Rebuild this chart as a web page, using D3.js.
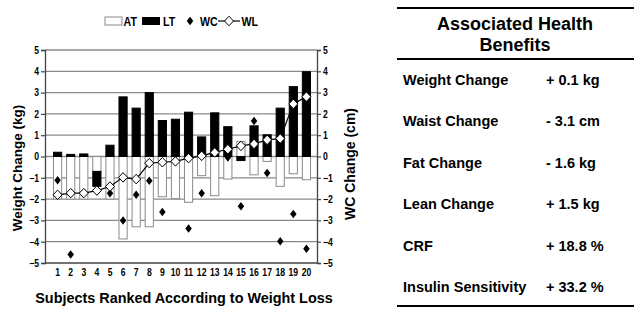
<!DOCTYPE html>
<html><head><meta charset="utf-8">
<script src="https://cdn.jsdelivr.net/npm/d3@7"></script>
<style>
html,body{margin:0;padding:0;background:#fff;}
svg{display:block;}
.narrow{font-family:"Liberation Sans",Arial,Helvetica,sans-serif;font-weight:bold;transform-box:fill-box;transform:scaleX(0.82);}
.oL{transform-origin:100% 50%;}
.oR{transform-origin:0% 50%;}
.oC{transform-origin:50% 50%;}
.wide{font-family:"Liberation Sans",Arial,Helvetica,sans-serif;font-weight:bold;}
</style></head>
<body>
<script>
const subjects = d3.range(1, 21);
const AT = [-2.0,-2.0,-2.0,-0.7,-2.0,-3.87,-3.3,-3.3,-1.89,-1.98,-2.15,-0.9,-1.84,-1.06,0.7,-0.86,-0.23,-1.4,-0.81,-1.09];
const LT = [0.2,0.1,0.12,-0.7,0.53,2.8,2.27,3.0,1.69,1.75,2.08,0.92,2.05,1.4,-0.19,1.44,1.02,2.27,3.28,3.98];
const WC = [-1.12,-4.6,-1.7,-1.62,-1.72,-3.0,-1.8,-1.14,-2.6,-0.24,-3.38,-1.72,0.18,-0.05,-2.34,1.67,-0.78,-3.98,-2.7,-4.33];
const WL = [-1.8,-1.72,-1.72,-1.6,-1.41,-0.98,-1.06,-0.31,-0.27,-0.23,-0.08,0.03,0.19,0.34,0.5,0.59,0.78,0.84,2.47,2.81];
const yTicks = [-5,-4,-3,-2,-1,0,1,2,3,4,5];
const legendItems = ["AT","LT","WC","WL"];
const benefitLabels = ["Weight Change","Waist Change","Fat Change","Lean Change","CRF","Insulin Sensitivity"];
const benefitValues = ["+ 0.1 kg","- 3.1 cm","- 1.6 kg","+ 1.5 kg","+ 18.8 %","+ 33.2 %"];

const W = 643, H = 315;
const svg = d3.select("body").append("svg").attr("width", W).attr("height", H);

const axL = 45, axR = 317;
const x = d3.scaleBand().domain(subjects).range([53, 311]).paddingInner(0.3).paddingOuter(0);
const y = d3.scaleLinear().domain([-5, 5]).range([263, 50]);

// gridlines
svg.append("g").selectAll("line").data(yTicks.filter(d => d > -5)).join("line")
  .attr("x1", axL).attr("x2", axR).attr("y1", d => y(d)).attr("y2", d => y(d))
  .attr("stroke", "#8a8a8a").attr("stroke-width", 1.3);

// stacked bars (diverging)
const rows = subjects.map((s, i) => ({s, AT: AT[i], LT: LT[i]}));
const stack = d3.stack().keys(["AT","LT"]).offset(d3.stackOffsetDiverging)(rows);
const barStyles = {AT: {fill: "#fff", stroke: "#8a8a8a"}, LT: {fill: "#000", stroke: "#000"}};
stack.forEach(layer => {
  const st = barStyles[layer.key];
  svg.append("g").selectAll("rect").data(layer).join("rect")
    .attr("x", d => x(d.data.s) + 0.5)
    .attr("width", x.bandwidth() - 1)
    .attr("y", d => y(Math.max(d[0], d[1])))
    .attr("height", d => Math.abs(y(d[0]) - y(d[1])))
    .attr("fill", st.fill).attr("stroke", st.stroke).attr("stroke-width", 1);
});

// axes
const yAxisL = d3.axisLeft(y).tickValues(yTicks).tickSize(4).tickPadding(2).tickFormat(d3.format("d"));
const gL = svg.append("g").attr("transform", `translate(${axL},0)`).call(yAxisL);
const yAxisR = d3.axisRight(y).tickValues(yTicks).tickSize(4).tickPadding(2).tickFormat(d3.format("d"));
const gR = svg.append("g").attr("transform", `translate(${axR},0)`).call(yAxisR);
const xAxis = d3.axisBottom(x).tickSize(0).tickPadding(6);
const gX = svg.append("g").attr("transform", `translate(0,${y(-5)})`).call(xAxis);
gX.select(".domain").remove();
svg.append("line").attr("x1", axL).attr("x2", axR).attr("y1", y(-5)).attr("y2", y(-5)).attr("stroke", "#444").attr("stroke-width", 1.3);
[gL, gR].forEach(g => {
  g.select(".domain").attr("stroke", "#444").attr("stroke-width", 1.3);
  g.selectAll(".tick line").attr("stroke", "#444").attr("stroke-width", 1.2);
});
[[gL, "oL"], [gR, "oR"], [gX, "oC"]].forEach(([g, o]) => g.selectAll(".tick text").attr("class", "narrow " + o).attr("font-size", 10.5).attr("fill", "#000"));
[gL, gR, gX].forEach(g => g.attr("font-family", null).attr("font-size", null));

// WL line + diamonds
const line = d3.line().x((d, i) => x(subjects[i]) + x.bandwidth() / 2).y(d => y(d));
svg.append("path").datum(WL).attr("d", line).attr("fill", "none").attr("stroke", "#000").attr("stroke-width", 1.2);

const diamond = (w, h) => `M0,${-h/2}L${w/2},0L0,${h/2}L${-w/2},0Z`;
svg.append("g").selectAll("path").data(WC).join("path")
  .attr("transform", (d, i) => `translate(${x(subjects[i]) + x.bandwidth() / 2},${y(d)})`)
  .attr("d", diamond(6.5, 8.5)).attr("fill", "#000");
svg.append("g").selectAll("path").data(WL).join("path")
  .attr("transform", (d, i) => `translate(${x(subjects[i]) + x.bandwidth() / 2},${y(d)})`)
  .attr("d", diamond(9, 9.5)).attr("fill", "#fff").attr("stroke", "#000").attr("stroke-width", 1);

// legend
const lg = svg.append("g");
lg.append("rect").attr("x", 105).attr("y", 17).attr("width", 17).attr("height", 8).attr("fill", "#fff").attr("stroke", "#8a8a8a");
lg.append("rect").attr("x", 142).attr("y", 17).attr("width", 18).attr("height", 8).attr("fill", "#000");
lg.append("path").attr("transform", "translate(190,21)").attr("d", diamond(6.5, 8.5)).attr("fill", "#000");
lg.append("line").attr("x1", 218).attr("x2", 240).attr("y1", 21).attr("y2", 21).attr("stroke", "#000").attr("stroke-width", 1.2);
lg.append("path").attr("transform", "translate(229,21)").attr("d", diamond(9, 9.5)).attr("fill", "#fff").attr("stroke", "#000");
const legX = [123.5, 163, 200, 241.5];
lg.selectAll("text").data(legendItems).join("text").attr("class", "narrow oR")
  .attr("x", (d, i) => legX[i]).attr("y", 26).attr("font-size", 13).text(d => d);

// axis titles
svg.append("text").attr("class", "wide").attr("font-size", 13.5)
  .attr("transform", "translate(22,168) rotate(-90)").attr("text-anchor", "middle").text("Weight Change (kg)");
svg.append("text").attr("class", "wide").attr("font-size", 14)
  .attr("transform", "translate(355,164) rotate(-90)").attr("text-anchor", "middle").text("WC Change (cm)");
svg.append("text").attr("class", "wide").attr("font-size", 14.4)
  .attr("x", 184).attr("y", 303).attr("text-anchor", "middle").text("Subjects Ranked According to Weight Loss");

// table
const tb = svg.append("g");
[8, 59, 306].forEach(yy => tb.append("line").attr("x1", 397).attr("x2", 634).attr("y1", yy).attr("y2", yy).attr("stroke", "#000").attr("stroke-width", 2));
tb.append("text").attr("class", "wide").attr("font-size", 18).attr("text-anchor", "middle").attr("x", 515).attr("y", 30).text("Associated Health");
tb.append("text").attr("class", "wide").attr("font-size", 18).attr("text-anchor", "middle").attr("x", 515).attr("y", 51).text("Benefits");
const rowY = d3.scaleLinear().domain([0, 5]).range([85, 292]);
tb.selectAll("text.lab").data(benefitLabels).join("text").attr("class", "wide lab").attr("font-size", 14.5)
  .attr("x", 403).attr("y", (d, i) => rowY(i)).text(d => d);
tb.selectAll("text.val").data(benefitValues).join("text").attr("class", "wide val").attr("font-size", 14.5)
  .attr("x", 546).attr("y", (d, i) => rowY(i)).text(d => d);
</script>
</body></html>
